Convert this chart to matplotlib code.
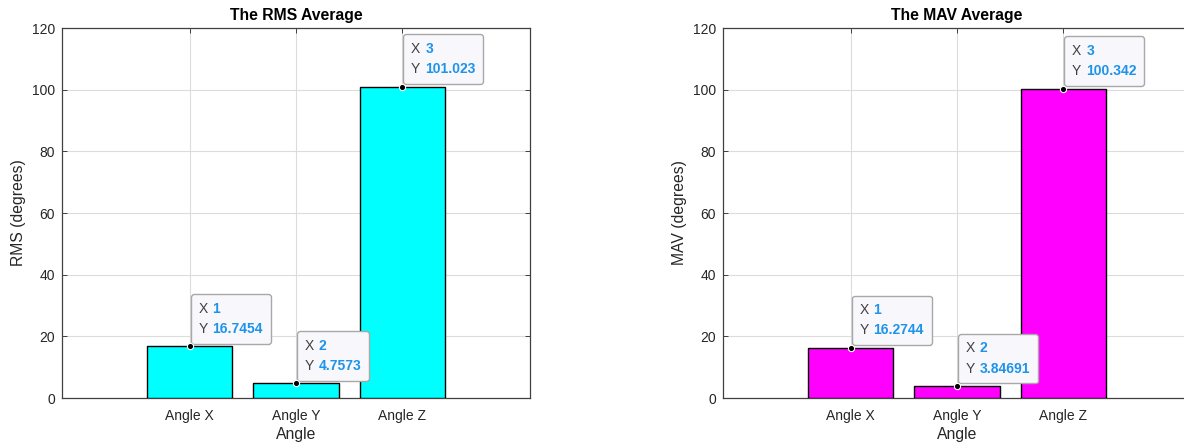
import matplotlib
matplotlib.use('Agg')
import matplotlib.pyplot as plt
from matplotlib.offsetbox import TextArea, HPacker, VPacker, AnnotationBbox

plt.rcParams['font.family'] = ['Liberation Sans', 'DejaVu Sans']

# Data
categories = ['Angle X', 'Angle Y', 'Angle Z']
positions = [1, 2, 3]
rms_values = [16.7454, 4.7573, 101.023]
mav_values = [16.2744, 3.84691, 100.342]
rms_labels = ['16.7454', '4.7573', '101.023']
mav_labels = ['16.2744', '3.84691', '100.342']

TXT = '#262626'
BLUE = '#1e93ea'


def datatip(ax, x, y, ylabel_txt):
    fp_k = dict(color='#404040', fontsize=10)
    fp_b = dict(color=BLUE, fontsize=10, fontweight='bold')
    row1 = HPacker(children=[TextArea('X', textprops=fp_k),
                             TextArea(str(x), textprops=fp_b)],
                   align='baseline', pad=0, sep=3.5)
    row2 = HPacker(children=[TextArea('Y', textprops=fp_k),
                             TextArea(ylabel_txt, textprops=fp_b)],
                   align='baseline', pad=0, sep=3.5)
    box = VPacker(children=[row1, row2], align='left', pad=5.5, sep=4.5)
    ab = AnnotationBbox(box, (x, y), xycoords='data',
                        xybox=(0.8, 2.0), boxcoords='offset points',
                        box_alignment=(0, 0), pad=0,
                        bboxprops=dict(boxstyle='round,pad=0,rounding_size=0.2',
                                       fc='#f8f8fc', ec='#a8a8a8', lw=1.0))
    ab.set_zorder(6)
    ab.set_clip_on(False)
    ax.add_artist(ab)
    ax.plot(x, y, 'o', ms=4.5, mfc='k', mec='white', mew=0.8,
            zorder=7, clip_on=False)


def make_panel(ax, values, labels, color, title, ylabel):
    ax.bar(positions, values, width=0.8, color=color, edgecolor='black',
           linewidth=1.0, zorder=3)
    ax.set_xlim(-0.2, 4.2)
    ax.set_ylim(0, 120)
    ax.set_xticks(positions)
    ax.set_xticklabels(categories)
    ax.set_yticks(range(0, 121, 20))
    ax.set_axisbelow(True)
    ax.grid(True, color='#dcdcdc', linewidth=0.8)
    ax.tick_params(direction='in', top=True, right=True, length=3.5,
                   width=0.7, colors='#404040', labelcolor=TXT, labelsize=10)
    ax.tick_params(axis='x', pad=8)
    ax.tick_params(axis='y', pad=5)
    for s in ax.spines.values():
        s.set_color('#404040')
        s.set_linewidth(0.9)
    ax.set_title(title, fontsize=11.3, fontweight='bold', color='black', pad=6)
    ax.set_xlabel('Angle', fontsize=11.3, color=TXT, labelpad=3)
    ax.set_ylabel(ylabel, fontsize=11.3, color=TXT, labelpad=4)
    for x, v, lbl in zip(positions, values, labels):
        datatip(ax, x, v, lbl)


fig = plt.figure(figsize=(11.84, 4.44), dpi=100)
ax1 = fig.add_axes([62 / 1184, 46 / 444, 468 / 1184, 370 / 444])
ax2 = fig.add_axes([723 / 1184, 46 / 444, 468 / 1184, 370 / 444])

make_panel(ax1, rms_values, rms_labels, '#00ffff', 'The RMS Average', 'RMS (degrees)')
make_panel(ax2, mav_values, mav_labels, '#ff00ff', 'The MAV Average', 'MAV (degrees)')

fig.savefig('out.png', dpi=100)
